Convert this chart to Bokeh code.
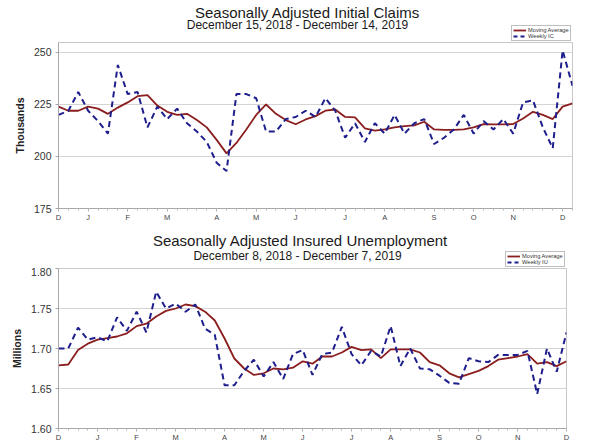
import pandas as pd
from bokeh.plotting import figure
from bokeh.layouts import column
from bokeh.models import (Range1d, FixedTicker, Label, Legend, LegendItem,
                          NumeralTickFormatter)
from bokeh.embed import file_html
from bokeh.resources import INLINE

# ---------------- data ----------------
ic_start = "2018-12-15"
ic_weekly = [220, 222, 231, 222, 217, 211, 244, 230, 231, 214, 224, 218, 223,
             216, 212, 207, 197, 193, 230, 230, 228, 212, 212, 218, 219, 222,
             219, 228, 222, 209, 216, 207, 216, 211, 220, 211, 216, 218, 206,
             209, 213, 220, 211, 217, 213, 218, 211, 226, 227, 214, 204, 251,
             234]
ic_ma = [224, 222, 222, 224, 223, 220.5, 223.5, 226, 229, 229.5, 224.5, 221.5,
         220, 220.5, 217.5, 214, 208, 201.5, 206.5, 213, 220, 225, 220.5,
         217.5, 215.5, 217.8, 219.4, 222, 222.6, 219, 218.8, 213.5, 212.4,
         213, 214, 214.6, 215, 216.7, 213, 212.8, 212.8, 213, 214, 215.6,
         215.4, 215.4, 215.6, 218.3, 221.5, 220, 218, 224, 225.5]

iu_start = "2018-12-08"
iu_weekly = [1.700, 1.700, 1.726, 1.711, 1.714, 1.709, 1.739, 1.722, 1.746,
             1.720, 1.771, 1.750, 1.756, 1.746, 1.755, 1.725, 1.717, 1.654,
             1.654, 1.672, 1.686, 1.665, 1.683, 1.662, 1.693, 1.698, 1.667,
             1.693, 1.695, 1.727, 1.693, 1.679, 1.697, 1.690, 1.728, 1.678,
             1.700, 1.675, 1.674, 1.666, 1.657, 1.656, 1.688, 1.684, 1.683,
             1.692, 1.692, 1.692, 1.697, 1.643, 1.700, 1.671, 1.720]
iu_ma = [1.679, 1.680, 1.698, 1.706, 1.711, 1.713, 1.715, 1.719, 1.728, 1.731,
         1.740, 1.747, 1.750, 1.755, 1.753, 1.746, 1.735, 1.7125, 1.6875,
         1.675, 1.667, 1.669, 1.675, 1.674, 1.676, 1.684, 1.681, 1.690, 1.690,
         1.695, 1.702, 1.698, 1.699, 1.688, 1.699, 1.699, 1.699, 1.695, 1.683,
         1.679, 1.669, 1.664, 1.668, 1.672, 1.678, 1.686, 1.688, 1.690, 1.693,
         1.681, 1.683, 1.678, 1.684]

month_letters = ["D", "J", "F", "M", "A", "M", "J", "J", "A", "S", "O", "N", "D"]
ic_yticks = [175, 200, 225, 250]
iu_yticks = [1.60, 1.65, 1.70, 1.75, 1.80]

ic_title = "Seasonally Adjusted Initial Claims"
ic_sub = "December 15, 2018 - December 14, 2019"
iu_title = "Seasonally Adjusted Insured Unemployment"
iu_sub = "December 8, 2018 - December 7, 2019"

FONT = "Liberation Sans"
MA_COLOR = "#8B1E1E"
WK_COLOR = "#1E1E8C"


def month_tick_idx(dates):
    idx = [0]
    for i in range(1, len(dates)):
        if dates[i].month != dates[i - 1].month:
            idx.append(i)
    return idx


def make_header(title, sub, weekly, ma, wk_label, fw, mbr, height, title_x,
                title_y, sub_x, sub_y, leg_x):
    xs = list(range(len(weekly)))
    # header strip: its y range lies below the data, so the key lines
    # themselves stay hidden and only feed the legend
    h = figure(frame_width=fw, frame_height=height, output_backend="svg",
               toolbar_location=None, min_border_left=58, min_border_right=mbr,
               min_border_top=0, min_border_bottom=0, x_axis_type=None,
               y_axis_type=None, x_range=Range1d(0, len(weekly) - 1),
               y_range=Range1d(-1, 0))
    h.outline_line_color = None
    h.background_fill_color = "white"
    h.border_fill_color = "white"
    h.grid.visible = False
    h.add_layout(Label(x=title_x, y=title_y, x_units="screen", y_units="screen",
                       text=title, text_align="center", text_baseline="middle",
                       text_font=FONT, text_font_size="15px",
                       text_color="#1a1a1a"))
    h.add_layout(Label(x=sub_x, y=sub_y, x_units="screen", y_units="screen",
                       text=sub, text_align="center", text_baseline="middle",
                       text_font=FONT, text_font_size="12px",
                       text_color="#1a1a1a"))
    k_ma = h.line(xs, ma, line_color=MA_COLOR, line_width=1.8)
    k_wk = h.line(xs, weekly, line_color=WK_COLOR, line_width=2,
                  line_dash="4 3")
    legend = Legend(items=[LegendItem(label="Moving Average", renderers=[k_ma]),
                           LegendItem(label=wk_label, renderers=[k_wk])],
                    location=(leg_x, 0.5), orientation="vertical",
                    label_text_font=FONT, label_text_font_size="5.7px",
                    label_text_color="#333333", glyph_width=13,
                    glyph_height=6, label_height=6, label_standoff=2,
                    spacing=0, padding=1, margin=0,
                    border_line_color="#808080", border_line_width=1,
                    background_fill_color="white", background_fill_alpha=1)
    h.add_layout(legend)
    return h


def make_chart(start, weekly, ma, yticks, yrange, ylabel, fmt,
               fw, fh, mbb, mbr):
    dates = pd.date_range(start, periods=len(weekly), freq="7D")
    xs = list(range(len(weekly)))
    p = figure(frame_width=fw, frame_height=fh, output_backend="svg",
               toolbar_location=None, min_border_left=58, min_border_right=mbr,
               min_border_top=1, min_border_bottom=mbb,
               x_range=Range1d(0, len(weekly) - 1),
               y_range=Range1d(*yrange))
    p.background_fill_color = "white"
    p.border_fill_color = "white"
    p.outline_line_color = "#c8c8c8"
    p.outline_line_width = 1

    p.line(xs, ma, line_color=MA_COLOR, line_width=1.8)
    p.line(xs, weekly, line_color=WK_COLOR, line_width=2, line_dash="6 4")

    ticks = month_tick_idx(dates)
    p.xaxis.ticker = FixedTicker(ticks=ticks, minor_ticks=xs)
    p.xaxis.major_label_overrides = {t: lab for t, lab in zip(ticks, month_letters)}
    p.xaxis.major_label_text_font = FONT
    p.xaxis.major_label_text_font_size = "7.5px"
    p.xaxis.major_label_text_color = "#444444"
    p.xaxis.major_tick_out = 3
    p.xaxis.major_tick_in = 0
    p.xaxis.minor_tick_out = 2
    p.xaxis.minor_tick_in = 0
    p.xaxis.major_label_standoff = 1
    p.xaxis.axis_line_color = "#a8a8a8"
    p.xaxis.major_tick_line_color = "#a8a8a8"
    p.xaxis.minor_tick_line_color = "#b8b8b8"

    p.yaxis.ticker = FixedTicker(ticks=yticks)
    if fmt:
        p.yaxis.formatter = NumeralTickFormatter(format=fmt)
    p.yaxis.major_label_text_font = FONT
    p.yaxis.major_label_text_font_size = "10.5px"
    p.yaxis.major_label_text_color = "#333333"
    p.yaxis.major_tick_out = 3
    p.yaxis.major_tick_in = 0
    p.yaxis.minor_tick_line_color = None
    p.yaxis.major_label_standoff = 4
    p.yaxis.axis_line_color = "#a8a8a8"
    p.yaxis.major_tick_line_color = "#a8a8a8"
    p.yaxis.axis_label = ylabel
    p.yaxis.axis_label_text_font = FONT
    p.yaxis.axis_label_text_font_size = "10.5px"
    p.yaxis.axis_label_text_font_style = "bold"
    p.yaxis.axis_label_text_color = "#222222"
    p.yaxis.axis_label_standoff = 5

    p.xgrid.visible = False
    p.ygrid.grid_line_color = "#d4d4d4"
    p.ygrid.grid_line_width = 1
    return p


# header frames share the chart frames' left edge (58 px)
h1 = make_header(ic_title, ic_sub, ic_weekly, ic_ma, "Weekly IC", fw=514,
                 mbr=20, height=41, title_x=249, title_y=28.8, sub_x=239,
                 sub_y=16.7, leg_x=453)
p1 = make_chart(ic_start, ic_weekly, ic_ma, ic_yticks, (175, 254.8),
                "Thousands", None, fw=514, fh=166, mbb=20, mbr=20)
h2 = make_header(iu_title, iu_sub, iu_weekly, iu_ma, "Weekly IU", fw=508,
                 mbr=26, height=39, title_x=242, title_y=27, sub_x=239,
                 sub_y=11.3, leg_x=447)
p2 = make_chart(iu_start, iu_weekly, iu_ma, iu_yticks, (1.60, 1.80),
                "Millions", "0.00", fw=508, fh=160, mbb=14, mbr=26)

layout = column(h1, p1, h2, p2, spacing=0)
open("out.html", "w").write(file_html(layout, INLINE))
